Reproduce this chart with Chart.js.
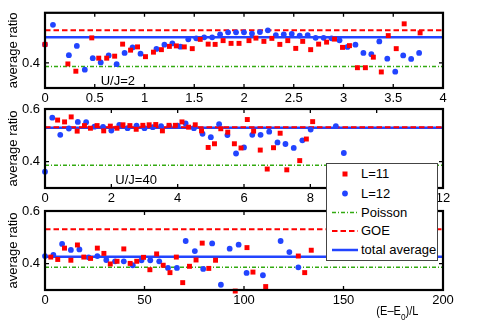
<!DOCTYPE html>
<html>
<head>
<meta charset="utf-8">
<script src="https://cdn.jsdelivr.net/npm/chart.js@4.4.1/dist/chart.umd.min.js"></script>
<style>
body { margin: 0; background: #fff; }
#wrap { position: relative; width: 498px; height: 324px; font-family: "Liberation Sans", Arial, sans-serif; }
#wrap canvas { position: absolute; left: 0; top: 0; }
#legend { position: absolute; left: 326px; top: 163px; width: 112px; height: 98px; box-sizing: border-box;
  background: #fff; border: 1px solid #444; }
#legend svg { position: absolute; left: 0; top: 0; }
#legend span { position: absolute; left: 34px; font-size: 13px; line-height: 14px; color: #000; white-space: nowrap; }
</style>
</head>
<body>
<div id="wrap">
  <canvas id="c1" width="498" height="324"></canvas>
  <canvas id="c2" width="498" height="324"></canvas>
  <canvas id="c3" width="498" height="324"></canvas>
  <div id="legend">
    <svg width="112" height="98">
      <rect x="15.5" y="7.5" width="5" height="5" fill="#ff0000"/>
      <circle cx="18" cy="29.5" r="2.9" fill="#2244ff"/>
      <line x1="5" y1="48.5" x2="31" y2="48.5" stroke="#33aa11" stroke-width="1.5" stroke-dasharray="4 2 1 2"/>
      <line x1="5" y1="67" x2="31" y2="67" stroke="#ff0000" stroke-width="2" stroke-dasharray="5.5 3"/>
      <line x1="5" y1="86" x2="31" y2="86" stroke="#2244ff" stroke-width="2.5"/>
    </svg>
    <span style="top:3px">L=11</span>
    <span style="top:22.5px">L=12</span>
    <span style="top:41.5px">Poisson</span>
    <span style="top:60px">GOE</span>
    <span style="top:79px">total average</span>
  </div>
</div>
<script>
// reference levels
const POISSON = 0.386;
const GOE = 0.5307;

// U/J=2, x axis 0..4
const x11_2 = [0, 0.23, 0.31, 0.47, 0.54, 0.62, 0.70, 0.78, 0.86, 0.93, 1.01, 1.09, 1.17, 1.25, 1.32, 1.40, 1.48, 1.56, 1.64, 1.71, 1.79, 1.87, 1.95, 2.05, 2.12, 2.20, 2.28, 2.36, 2.44, 2.52, 2.59, 2.67, 2.75, 2.83, 2.91, 2.99, 3.06, 3.14, 3.22, 3.30, 3.38, 3.45, 3.53, 3.61, 3.77];
const y11_2 = [0.474, 0.396, 0.367, 0.500, 0.419, 0.419, 0.427, 0.475, 0.451, 0.464, 0.425, 0.443, 0.453, 0.466, 0.468, 0.464, 0.457, 0.494, 0.475, 0.474, 0.489, 0.478, 0.478, 0.489, 0.499, 0.486, 0.498, 0.474, 0.489, 0.458, 0.486, 0.453, 0.475, 0.483, 0.495, 0.462, 0.469, 0.381, 0.381, 0.423, 0.364, 0.509, 0.457, 0.556, 0.520];
const x12_2 = [0, 0.08, 0.24, 0.32, 0.40, 0.48, 0.56, 0.64, 0.72, 0.80, 0.88, 0.96, 1.12, 1.20, 1.28, 1.36, 1.44, 1.52, 1.60, 1.68, 1.76, 1.84, 1.92, 2.00, 2.08, 2.16, 2.24, 2.32, 2.40, 2.48, 2.56, 2.64, 2.72, 2.80, 2.88, 2.96, 3.04, 3.12, 3.20, 3.28, 3.36, 3.44, 3.52, 3.60, 3.68, 3.76];
const y12_2 = [0.474, 0.552, 0.431, 0.468, 0.373, 0.419, 0.402, 0.430, 0.395, 0.440, 0.462, 0.437, 0.456, 0.473, 0.478, 0.465, 0.494, 0.498, 0.502, 0.502, 0.514, 0.522, 0.522, 0.522, 0.517, 0.523, 0.530, 0.511, 0.514, 0.516, 0.509, 0.511, 0.500, 0.500, 0.498, 0.490, 0.464, 0.473, 0.440, 0.435, 0.486, 0.417, 0.365, 0.430, 0.416, 0.440];
const avg_2 = 0.502;

// U/J=40, x axis 0..12
const x11_40 = [0.38, 0.59, 0.79, 0.97, 1.19, 1.37, 1.57, 1.77, 1.97, 2.17, 2.35, 2.56, 2.75, 2.95, 3.14, 3.34, 3.54, 3.74, 3.93, 4.13, 4.33, 4.53, 4.72, 4.92, 5.11, 5.30, 5.51, 5.71, 5.91, 6.10, 6.29, 6.49, 6.70, 6.89, 7.09, 7.29, 7.68, 7.88, 8.07];
const y11_40 = [0.558, 0.551, 0.570, 0.516, 0.537, 0.527, 0.537, 0.517, 0.535, 0.527, 0.540, 0.537, 0.523, 0.538, 0.540, 0.541, 0.517, 0.538, 0.538, 0.551, 0.531, 0.540, 0.517, 0.454, 0.468, 0.525, 0.512, 0.468, 0.452, 0.560, 0.516, 0.444, 0.372, 0.453, 0.508, 0.369, 0.404, 0.486, 0.552];
const x12_40 = [0, 0.22, 0.46, 0.72, 0.99, 1.24, 1.49, 1.75, 2.00, 2.24, 2.49, 2.76, 3.00, 3.25, 3.50, 3.75, 4.00, 4.24, 4.49, 4.75, 5.00, 5.25, 5.50, 5.76, 6.00, 6.25, 6.50, 6.76, 7.01, 7.25, 7.50, 7.76, 8.01, 8.77, 9.01];
const y12_40 = [0.362, 0.567, 0.502, 0.526, 0.551, 0.550, 0.533, 0.532, 0.518, 0.540, 0.527, 0.537, 0.527, 0.531, 0.535, 0.535, 0.537, 0.545, 0.527, 0.506, 0.493, 0.542, 0.501, 0.431, 0.454, 0.502, 0.502, 0.514, 0.473, 0.467, 0.452, 0.481, 0.522, 0.535, 0.433];
const avg_40 = 0.529;

// energy resolved, x axis 0..200
const x11_e = [2.9, 6.4, 9.8, 13.0, 16.3, 19.5, 22.9, 26.3, 29.6, 32.8, 36.2, 39.6, 42.8, 46.1, 49.5, 52.7, 56.1, 59.4, 62.8, 66.0, 69.2, 72.6, 75.9, 79.0, 82.3, 85.7, 95.6, 101.5, 104.5, 110.9, 127.3, 130.5, 133.8];
const y11_e = [0.425, 0.416, 0.459, 0.413, 0.471, 0.425, 0.420, 0.459, 0.439, 0.399, 0.409, 0.456, 0.401, 0.409, 0.424, 0.377, 0.437, 0.394, 0.366, 0.425, 0.328, 0.390, 0.414, 0.478, 0.382, 0.413, 0.296, 0.461, 0.368, 0.313, 0.429, 0.366, 0.451];
const x12_e = [0, 4.2, 8.6, 13.0, 17.3, 21.9, 26.3, 30.8, 35.2, 39.6, 44.1, 48.5, 52.9, 57.4, 61.8, 66.3, 70.7, 75.3, 79.5, 84.0, 88.4, 92.8, 97.3, 101.3, 109.5, 118.4, 122.8, 127.3];
const y12_e = [0.429, 0.433, 0.475, 0.452, 0.454, 0.424, 0.429, 0.414, 0.409, 0.409, 0.394, 0.413, 0.413, 0.409, 0.384, 0.384, 0.486, 0.448, 0.380, 0.477, 0.320, 0.457, 0.472, 0.365, 0.356, 0.486, 0.444, 0.386];
const avg_e = 0.426;

// tick labels
const xTicks_2 = [0, 0.5, 1, 1.5, 2, 2.5, 3, 3.5, 4];
const xTicks_40 = [0, 2, 4, 6, 8, 10, 12];
const xTicks_e = [0, 50, 100, 150, 200];
const yTicks_top = [0.4];
const yTicks = [0.4, 0.6];

const RED = '#ff0000';
const BLUE = '#2244ff';
const GREEN = '#33aa11';
const FONT = '"Liberation Sans", Arial, sans-serif';

Chart.defaults.font.family = FONT;
Chart.defaults.color = '#000';

function pts(xs, ys) {
    return xs.map((x, i) => ({x: x, y: ys[i]}));
}

const frame = {
    id: 'frame',
    afterDatasetsDraw(chart, args, opts) {
        const {ctx, chartArea: a, scales: {x, y}} = chart;
        ctx.save();
        ctx.strokeStyle = '#000';
        ctx.lineWidth = 1.3;
        ctx.beginPath();
        x.ticks.forEach(t => {
            const p = x.getPixelForValue(t.value);
            ctx.moveTo(p, a.bottom); ctx.lineTo(p, a.bottom - 4);
            ctx.moveTo(p, a.top); ctx.lineTo(p, a.top + 4);
        });
        y.ticks.forEach(t => {
            const p = y.getPixelForValue(t.value);
            ctx.moveTo(a.left, p); ctx.lineTo(a.left + 4, p);
            ctx.moveTo(a.right, p); ctx.lineTo(a.right - 4, p);
        });
        ctx.stroke();
        ctx.lineWidth = 2.2;
        ctx.strokeRect(a.left, a.top, a.right - a.left, a.bottom - a.top);

        ctx.fillStyle = '#000';
        ctx.textAlign = 'left';
        ctx.textBaseline = 'alphabetic';
        if (opts.note) {
            ctx.font = '13px ' + FONT;
            ctx.fillText(opts.note.text, x.getPixelForValue(opts.note.x), y.getPixelForValue(opts.note.y));
        }
        if (opts.xlabel) {
            // (E-E0)/L with subscript, slightly condensed like the original
            ctx.translate(x.getPixelForValue(opts.xlabel.x) + 1, a.bottom + 25);
            ctx.scale(0.92, 1);
            let px = 0;
            ctx.font = '12px ' + FONT;
            const s1 = '(E\u2013E';
            ctx.fillText(s1, px, 0);
            px += ctx.measureText(s1).width;
            ctx.font = '9px ' + FONT;
            ctx.fillText('0', px, 4.5);
            px += ctx.measureText('0').width;
            ctx.font = '12px ' + FONT;
            ctx.fillText(')/L', px, 0);
        }
        ctx.restore();
    }
};

function makePanel(id, p) {
    const ctx = document.getElementById(id).getContext('2d');
    const line = (v, color, w, dash) => ({
        data: [{x: p.xmin, y: v}, {x: p.xmax, y: v}],
        showLine: true,
        borderColor: color,
        borderWidth: w,
        borderDash: dash,
        pointRadius: 0,
        fill: false
    });
    return new Chart(ctx, {
        type: 'scatter',
        data: {
            datasets: [
                {
                    label: 'L=11',
                    data: pts(p.x11, p.y11),
                    pointStyle: 'rect',
                    pointRadius: 3.5,
                    backgroundColor: RED,
                    borderWidth: 0,
                    clip: false
                },
                {
                    label: 'L=12',
                    data: pts(p.x12, p.y12),
                    pointStyle: 'circle',
                    pointRadius: 2.9,
                    backgroundColor: BLUE,
                    borderWidth: 0,
                    clip: false
                },
                Object.assign({label: 'Poisson'}, line(POISSON, GREEN, 1.5, [4, 2, 1, 2])),
                Object.assign({label: 'GOE'}, line(GOE, RED, 2, [5.5, 3])),
                Object.assign({label: 'total average'}, line(p.avg, BLUE, 2.5, []))
            ]
        },
        options: {
            responsive: false,
            animation: false,
            events: [],
            layout: {
                padding: {left: 0, right: 55, top: p.top, bottom: 324 - p.bottom - 16}
            },
            scales: {
                x: {
                    type: 'linear',
                    min: p.xmin,
                    max: p.xmax,
                    grid: {display: false, drawTicks: false},
                    border: {display: false},
                    afterBuildTicks: s => { s.ticks = p.xTicks.map(v => ({value: v})); },
                    afterFit: s => { s.height = 16; },
                    ticks: {
                        font: {size: 13},
                        color: '#000',
                        padding: 3,
                        maxRotation: 0,
                        autoSkip: false,
                        callback: v => String(v)
                    }
                },
                y: {
                    type: 'linear',
                    min: 0.3,
                    max: 0.6,
                    grid: {display: false, drawTicks: false},
                    border: {display: false},
                    afterBuildTicks: s => { s.ticks = p.yTicks.map(v => ({value: v})); },
                    afterFit: s => { s.width = 45; },
                    ticks: {
                        font: {size: 13},
                        color: '#000',
                        padding: 5,
                        callback: v => v.toFixed(1)
                    },
                    title: {
                        display: true,
                        text: 'average ratio',
                        font: {size: 13},
                        color: '#000',
                        padding: {top: 6, bottom: 0}
                    }
                }
            },
            plugins: {
                legend: {display: false},
                tooltip: {enabled: false},
                frame: {note: p.note, xlabel: p.xlabel}
            }
        },
        plugins: [frame]
    });
}

makePanel('c1', {
    top: 6, bottom: 88, xmin: 0, xmax: 4,
    x11: x11_2, y11: y11_2, x12: x12_2, y12: y12_2, avg: avg_2,
    xTicks: xTicks_2, yTicks: yTicks_top,
    note: {text: 'U/J=2', x: 0.56, y: 0.311}
});
makePanel('c2', {
    top: 109, bottom: 188, xmin: 0, xmax: 12,
    x11: x11_40, y11: y11_40, x12: x12_40, y12: y12_40, avg: avg_40,
    xTicks: xTicks_40, yTicks: yTicks,
    note: {text: 'U/J=40', x: 2.12, y: 0.314}
});
makePanel('c3', {
    top: 211, bottom: 290, xmin: 0, xmax: 200,
    x11: x11_e, y11: y11_e, x12: x12_e, y12: y12_e, avg: avg_e,
    xTicks: xTicks_e, yTicks: yTicks,
    xlabel: {x: 166}
});
</script>
</body>
</html>
